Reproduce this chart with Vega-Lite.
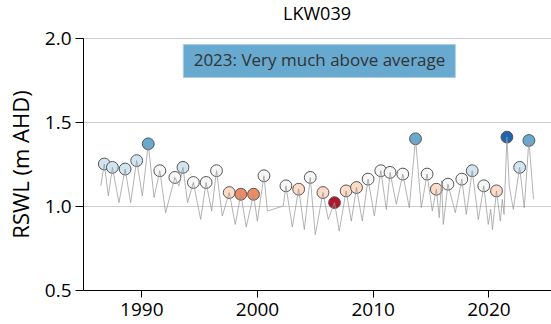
{
  "$schema": "https://vega.github.io/schema/vega-lite/v6.json",
  "width": 468,
  "height": 252,
  "autosize": {"type": "none"},
  "padding": {"left": 83, "top": 38, "right": 0, "bottom": 34},
  "background": "white",
  "title": {"text": "LKW039", "font": "Open Sans", "fontSize": 18, "fontWeight": "normal", "color": "black", "offset": 5},
  "config": {
    "view": {"stroke": null},
    "axis": {"labelFont": "Open Sans", "titleFont": "Open Sans", "labelColor": "black", "titleColor": "black", "titleFontWeight": "normal"}
  },
  "datasets": {
    "series": [
      {"t": 1986.5, "v": 1.12}, {"t": 1986.8, "v": 1.25}, {"t": 1987.15, "v": 1.06}, {"t": 1987.5, "v": 1.23},
      {"t": 1988.07, "v": 1.02}, {"t": 1988.6, "v": 1.22}, {"t": 1989.08, "v": 1.02}, {"t": 1989.6, "v": 1.27},
      {"t": 1990.09, "v": 1.06}, {"t": 1990.6, "v": 1.37}, {"t": 1991.1, "v": 1.05}, {"t": 1991.6, "v": 1.21},
      {"t": 1992.1, "v": 0.96}, {"t": 1992.9, "v": 1.17}, {"t": 1993.25, "v": 1.12}, {"t": 1993.6, "v": 1.23},
      {"t": 1994.0, "v": 1.02}, {"t": 1994.5, "v": 1.14}, {"t": 1995.13, "v": 0.92}, {"t": 1995.6, "v": 1.14},
      {"t": 1996.08, "v": 0.97}, {"t": 1996.5, "v": 1.21}, {"t": 1997.0, "v": 0.94}, {"t": 1997.6, "v": 1.08},
      {"t": 1998.12, "v": 0.89}, {"t": 1998.6, "v": 1.07}, {"t": 1999.07, "v": 0.875}, {"t": 1999.7, "v": 1.07},
      {"t": 2000.03, "v": 0.91}, {"t": 2000.6, "v": 1.18}, {"t": 2000.9, "v": 0.97}, {"t": 2002.27, "v": 1.0},
      {"t": 2002.5, "v": 1.12}, {"t": 2003.05, "v": 0.875}, {"t": 2003.6, "v": 1.1}, {"t": 2004.09, "v": 0.86},
      {"t": 2004.6, "v": 1.17}, {"t": 2005.04, "v": 0.83}, {"t": 2005.7, "v": 1.08}, {"t": 2006.16, "v": 0.92},
      {"t": 2006.7, "v": 1.02}, {"t": 2007.11, "v": 0.85}, {"t": 2007.7, "v": 1.09}, {"t": 2008.15, "v": 0.91},
      {"t": 2008.6, "v": 1.11}, {"t": 2009.1, "v": 0.91}, {"t": 2009.6, "v": 1.16}, {"t": 2010.14, "v": 0.94},
      {"t": 2010.7, "v": 1.21}, {"t": 2011.18, "v": 0.98}, {"t": 2011.5, "v": 1.2}, {"t": 2012.04, "v": 1.01},
      {"t": 2012.6, "v": 1.19}, {"t": 2013.16, "v": 0.99}, {"t": 2013.7, "v": 1.4}, {"t": 2014.2, "v": 0.99},
      {"t": 2014.7, "v": 1.19}, {"t": 2015.15, "v": 0.97}, {"t": 2015.5, "v": 1.1}, {"t": 2015.75, "v": 0.93},
      {"t": 2015.95, "v": 1.15}, {"t": 2016.1, "v": 0.89}, {"t": 2016.5, "v": 1.13}, {"t": 2017.14, "v": 0.96},
      {"t": 2017.7, "v": 1.16}, {"t": 2018.09, "v": 0.95}, {"t": 2018.6, "v": 1.21}, {"t": 2019.13, "v": 0.92},
      {"t": 2019.6, "v": 1.12}, {"t": 2019.99, "v": 0.89}, {"t": 2020.2, "v": 0.98}, {"t": 2020.35, "v": 0.86},
      {"t": 2020.7, "v": 1.09}, {"t": 2021.03, "v": 0.91}, {"t": 2021.2, "v": 1.04}, {"t": 2021.35, "v": 0.95},
      {"t": 2021.6, "v": 1.41}, {"t": 2021.8, "v": 1.12}, {"t": 2022.15, "v": 0.98}, {"t": 2022.7, "v": 1.23},
      {"t": 2023.1, "v": 0.99}, {"t": 2023.5, "v": 1.39}, {"t": 2023.9, "v": 1.04}
    ],
    "peaks": [
      {"t": 1986.8, "v": 1.25, "c": "Above average"},
      {"t": 1987.5, "v": 1.23, "c": "Above average"},
      {"t": 1988.6, "v": 1.22, "c": "Above average"},
      {"t": 1989.6, "v": 1.27, "c": "Above average"},
      {"t": 1990.6, "v": 1.37, "c": "Very much above average"},
      {"t": 1991.6, "v": 1.21, "c": "Average"},
      {"t": 1992.9, "v": 1.17, "c": "Average"},
      {"t": 1993.6, "v": 1.23, "c": "Above average"},
      {"t": 1994.5, "v": 1.14, "c": "Average"},
      {"t": 1995.6, "v": 1.14, "c": "Average"},
      {"t": 1996.5, "v": 1.21, "c": "Average"},
      {"t": 1997.6, "v": 1.08, "c": "Below average"},
      {"t": 1998.6, "v": 1.07, "c": "Very much below average"},
      {"t": 1999.7, "v": 1.07, "c": "Very much below average"},
      {"t": 2000.6, "v": 1.18, "c": "Average"},
      {"t": 2002.5, "v": 1.12, "c": "Average"},
      {"t": 2003.6, "v": 1.1, "c": "Below average"},
      {"t": 2004.6, "v": 1.17, "c": "Average"},
      {"t": 2005.7, "v": 1.08, "c": "Below average"},
      {"t": 2006.7, "v": 1.02, "c": "Lowest on record"},
      {"t": 2007.7, "v": 1.09, "c": "Below average"},
      {"t": 2008.6, "v": 1.11, "c": "Below average"},
      {"t": 2009.6, "v": 1.16, "c": "Average"},
      {"t": 2010.7, "v": 1.21, "c": "Average"},
      {"t": 2011.5, "v": 1.2, "c": "Average"},
      {"t": 2012.6, "v": 1.19, "c": "Average"},
      {"t": 2013.7, "v": 1.4, "c": "Very much above average"},
      {"t": 2014.7, "v": 1.19, "c": "Average"},
      {"t": 2015.5, "v": 1.1, "c": "Below average"},
      {"t": 2016.5, "v": 1.13, "c": "Average"},
      {"t": 2017.7, "v": 1.16, "c": "Average"},
      {"t": 2018.6, "v": 1.21, "c": "Above average"},
      {"t": 2019.6, "v": 1.12, "c": "Average"},
      {"t": 2020.7, "v": 1.09, "c": "Below average"},
      {"t": 2021.6, "v": 1.41, "c": "Highest on record"},
      {"t": 2022.7, "v": 1.23, "c": "Above average"},
      {"t": 2023.5, "v": 1.39, "c": "Very much above average"}
    ],
    "note": [
      {"x1": 1993.63, "x2": 2017.14, "y1": 1.765, "y2": 1.961, "xm": 2005.4, "ym": 1.863, "label": "2023: Very much above average"}
    ]
  },
  "layer": [
    {
      "data": {"name": "note"},
      "mark": {"type": "rect", "fill": "#67a9cf", "stroke": "#a9cde3", "strokeWidth": 1},
      "encoding": {
        "x": {"field": "x1", "type": "quantitative", "scale": {"domain": [1984.96, 2025.41], "nice": false, "zero": false},
              "axis": {"values": [1990, 2000, 2010, 2020], "format": "d", "title": null, "grid": false, "labelFontSize": 19, "domainColor": "black", "tickColor": "black", "tickSize": 7, "labelPadding": 3, "labelFlush": false}},
        "x2": {"field": "x2"},
        "y": {"field": "y1", "type": "quantitative", "scale": {"domain": [0.5, 2.0], "nice": false, "zero": false},
              "axis": {"values": [0.5, 1.0, 1.5, 2.0], "format": ".1f", "title": "RSWL (m AHD)", "titleFontSize": 22, "titlePadding": 11, "labelFontSize": 19, "grid": true, "gridColor": "#cccccc", "gridWidth": 1, "domainColor": "black", "tickColor": "black", "tickSize": 8, "labelPadding": 4}},
        "y2": {"field": "y2"}
      }
    },
    {
      "data": {"name": "note"},
      "mark": {"type": "text", "font": "Open Sans", "fontSize": 17, "color": "#333333", "align": "center", "baseline": "middle"},
      "encoding": {
        "x": {"field": "xm", "type": "quantitative"},
        "y": {"field": "ym", "type": "quantitative"},
        "text": {"field": "label"}
      }
    },
    {
      "data": {"name": "peaks"},
      "mark": {"type": "circle", "size": 140, "stroke": "#555555", "strokeWidth": 1, "opacity": 1},
      "encoding": {
        "x": {"field": "t", "type": "quantitative"},
        "y": {"field": "v", "type": "quantitative"},
        "color": {"field": "c", "type": "nominal", "legend": null,
                  "scale": {"domain": ["Lowest on record", "Very much below average", "Below average", "Average", "Above average", "Very much above average", "Highest on record"],
                            "range": ["#b2182b", "#ef8a62", "#fddbc7", "#f7f7f7", "#d1e5f0", "#67a9cf", "#2166ac"]}}
      }
    },
    {
      "data": {"name": "series"},
      "mark": {"type": "line", "color": "#999999", "strokeWidth": 1, "opacity": 0.75},
      "encoding": {
        "x": {"field": "t", "type": "quantitative"},
        "y": {"field": "v", "type": "quantitative"}
      }
    }
  ]
}
